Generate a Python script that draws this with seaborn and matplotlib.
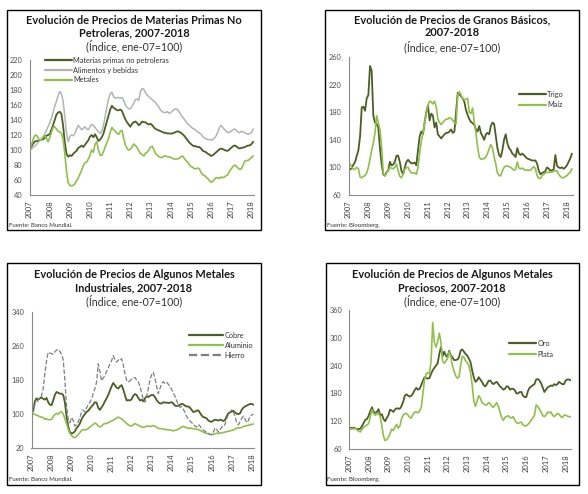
import numpy as np
import pandas as pd
import matplotlib
matplotlib.use("Agg")
import matplotlib.pyplot as plt
import seaborn as sns
from matplotlib.patches import Rectangle

sns.set_theme(style="white")
plt.rcParams['font.family'] = ['Lato', 'DejaVu Sans']

W, H = 588, 494
DARK = "#4b5e24"
LIGHT = "#8fc04a"
GRAY = "#b4b4b4"
IRON = "#7f7f7f"

year_labels = [str(y) for y in range(2007, 2019)]

# ---------------- Chart 1: Materias primas no petroleras (monthly, Jan-2007 .. Feb-2018)
materias_primas = [
    100, 104, 108, 111, 112, 112, 113, 114, 114, 116, 119, 120,
    121, 127, 133, 140, 147, 150, 151, 148, 132, 110, 95, 91,
    93, 92, 95, 97, 99, 103, 104, 106, 104, 107, 110, 113,
    118, 120, 117, 121, 117, 112, 114, 117, 122, 130, 138, 146,
    154, 159, 156, 155, 153, 153, 154, 152, 146, 141, 137, 134,
    131, 135, 137, 138, 136, 133, 135, 138, 137, 137, 135, 134,
    135, 133, 130, 128, 127, 126, 125, 124, 123, 123, 122, 122,
    122, 122, 123, 124, 125, 124, 123, 121, 119, 116, 113, 110,
    108, 106, 105, 105, 104, 104, 102, 99, 98, 97, 95, 94,
    92, 93, 95, 97, 99, 101, 102, 101, 100, 99, 99, 101,
    103, 105, 106, 105, 103, 102, 103, 103, 104, 105, 106, 106,
    108, 111]
alimentos = [
    100, 101, 103, 105, 107, 110, 112, 114, 117, 121, 126, 131,
    136, 142, 150, 158, 165, 172, 178, 175, 165, 145, 122, 111,
    118, 120, 119, 122, 128, 133, 130, 127, 129, 131, 128, 127,
    131, 134, 133, 130, 127, 124, 122, 125, 133, 145, 157, 168,
    175, 177, 171, 169, 170, 170, 169, 170, 166, 160, 157, 155,
    155, 158, 163, 167, 168, 166, 178, 182, 181, 176, 173, 171,
    169, 167, 165, 163, 160, 157, 153, 151, 150, 150, 151, 149,
    150, 152, 154, 155, 154, 151, 147, 144, 141, 138, 135, 133,
    131, 129, 128, 126, 124, 123, 121, 118, 116, 115, 114, 114,
    113, 114, 116, 119, 124, 130, 133, 130, 127, 125, 123, 124,
    125, 127, 128, 126, 124, 123, 125, 124, 123, 122, 121, 122,
    123, 128]
metales = [
    100, 106, 113, 119, 120, 117, 113, 114, 117, 119, 116, 111,
    116, 123, 130, 131, 128, 125, 124, 122, 114, 95, 72, 56,
    53, 52, 53, 55, 59, 63, 68, 73, 79, 83, 84, 88,
    93, 100, 97, 108, 111, 100, 93, 93, 98, 104, 110, 115,
    124, 130, 127, 125, 122, 121, 125, 126, 116, 107, 102, 100,
    101, 104, 108, 106, 103, 99, 95, 94, 92, 96, 97, 100,
    104, 105, 100, 95, 93, 91, 90, 90, 92, 92, 91, 91,
    90, 89, 88, 88, 88, 89, 91, 92, 89, 86, 84, 81,
    78, 77, 75, 75, 76, 75, 70, 67, 66, 64, 62, 59,
    57, 58, 61, 63, 63, 62, 64, 63, 64, 66, 67, 72,
    75, 78, 80, 78, 76, 74, 75, 80, 85, 86, 86, 88,
    90, 92]

# ---------------- Chart 2: Granos básicos (monthly, Jan-2007 .. Apr-2018)
trigo = [
    100, 97, 99, 104, 108, 117, 125, 145, 187, 188, 182, 200,
    205, 247, 240, 175, 165, 163, 158, 128, 105, 90, 88, 93,
    95, 108, 103, 104, 108, 117, 117, 108, 95, 90, 100, 108,
    111, 108, 106, 106, 107, 103, 125, 145, 152, 148, 165, 180,
    190, 168, 178, 175, 158, 165, 148, 145, 142, 145, 148, 150,
    150, 152, 155, 150, 152, 180, 208, 206, 203, 200, 195, 183,
    176, 170, 166, 164, 162, 155, 152, 160, 150, 145, 140, 148,
    150, 148, 160, 165, 163, 145, 128, 118, 115, 125, 140, 148,
    135, 128, 125, 120, 118, 115, 128, 120, 118, 120, 118, 115,
    113, 112, 111, 110, 110, 110, 105, 95, 90, 92, 93, 95,
    100, 98, 95, 96, 97, 118, 102, 100, 99, 100, 98, 100,
    103, 108, 113, 120]
maiz = [
    104, 105, 100, 97, 98, 100, 98, 86, 85, 87, 88, 92,
    100, 112, 125, 135, 150, 175, 165, 155, 130, 92, 88, 92,
    95, 100, 99, 98, 100, 105, 95, 87, 85, 90, 97, 100,
    100, 95, 92, 92, 92, 90, 100, 120, 138, 150, 165, 178,
    190, 196, 195, 192, 196, 188, 170, 165, 162, 165, 168, 170,
    170, 172, 171, 168, 165, 163, 205, 210, 205, 200, 198, 199,
    200, 180, 178, 186, 165, 150, 130, 115, 112, 112, 113, 115,
    120, 127, 133, 128, 115, 105, 92, 88, 88, 95, 100, 102,
    102, 101, 100, 98, 96, 97, 108, 99, 98, 99, 97, 96,
    96, 96, 96, 99, 101, 98, 88, 84, 84, 88, 90, 92,
    93, 93, 93, 93, 95, 95, 95, 90, 87, 85, 85, 87,
    88, 91, 93, 98]

# ---------------- Chart 3: Metales industriales (monthly, Jan-2007 .. Feb-2018)
cobre = [
    100, 108, 130, 137, 134, 137, 139, 136, 134, 138, 128, 122,
    121, 132, 145, 152, 150, 148, 148, 145, 128, 95, 72, 58,
    55, 56, 60, 67, 72, 78, 88, 95, 100, 105, 108, 113,
    118, 122, 128, 127, 115, 110, 116, 122, 130, 137, 145, 155,
    165, 173, 168, 162, 160, 165, 168, 158, 145, 132, 133, 132,
    135, 143, 147, 145, 138, 132, 134, 130, 137, 142, 140, 143,
    145, 145, 140, 133, 128, 125, 125, 128, 127, 127, 126, 127,
    128, 125, 120, 119, 120, 122, 124, 123, 120, 118, 118, 115,
    110, 105, 106, 108, 109, 103, 97, 93, 92, 90, 85, 83,
    82, 85, 87, 86, 85, 87, 86, 84, 86, 95, 102, 104,
    106, 108, 104, 101, 100, 102, 110, 115, 118, 120, 122, 124,
    124, 122]
aluminio = [
    100, 101, 99, 98, 96, 94, 93, 92, 88, 89, 87, 87,
    88, 94, 99, 102, 100, 104, 106, 100, 90, 78, 65, 55,
    50, 46, 45, 48, 52, 57, 62, 64, 63, 64, 66, 70,
    73, 76, 79, 77, 72, 70, 72, 76, 78, 78, 80, 82,
    84, 86, 88, 91, 93, 91, 89, 86, 82, 78, 75, 73,
    72, 75, 78, 76, 74, 72, 70, 69, 70, 72, 72, 71,
    72, 73, 72, 69, 67, 66, 66, 65, 64, 64, 63, 63,
    62, 61, 62, 63, 65, 67, 70, 71, 70, 68, 67, 67,
    67, 66, 65, 65, 64, 62, 60, 58, 56, 55, 54, 53,
    52, 53, 54, 55, 55, 56, 56, 57, 58, 59, 60, 61,
    62, 63, 65, 67, 68, 68, 69, 71, 72, 73, 74, 75,
    76, 77]
hierro = [
    100, 112, 122, 128, 133, 138, 143, 160, 195, 225, 245, 243,
    242, 240, 246, 250, 252, 247, 240, 228, 180, 120, 88, 80,
    92, 85, 72, 75, 82, 92, 105, 110, 105, 115, 122, 128,
    135, 148, 160, 175, 218, 200, 178, 185, 190, 200, 208, 218,
    225, 237, 228, 222, 227, 225, 230, 215, 195, 180, 175, 178,
    182, 184, 186, 180, 176, 165, 150, 135, 128, 140, 160, 180,
    192, 198, 185, 165, 148, 160, 172, 176, 172, 175, 170, 165,
    158, 150, 142, 132, 122, 116, 118, 112, 103, 95, 88, 84,
    80, 77, 72, 70, 76, 72, 66, 63, 60, 57, 55, 52,
    52, 58, 68, 64, 58, 63, 70, 70, 76, 90, 98, 105,
    110, 106, 95, 80, 75, 82, 90, 95, 88, 80, 85, 95,
    98, 100]

# ---------------- Chart 4: Metales preciosos (monthly, Jan-2007 .. Apr-2018)
oro = [
    102, 106, 105, 106, 104, 103, 103, 104, 110, 117, 123, 125,
    132, 142, 150, 140, 138, 140, 146, 133, 135, 125, 120, 127,
    133, 145, 143, 140, 145, 148, 147, 147, 153, 162, 175, 178,
    175, 173, 175, 180, 187, 192, 188, 190, 198, 207, 215, 213,
    212, 213, 222, 230, 235, 240, 245, 265, 280, 260, 270, 262,
    258, 272, 262, 258, 252, 252, 253, 258, 272, 275, 270, 265,
    262, 255, 248, 230, 215, 205, 208, 215, 210, 205, 198, 195,
    200, 207, 208, 203, 200, 203, 205, 200, 195, 192, 188, 190,
    195, 195, 188, 190, 190, 187, 180, 180, 183, 183, 175, 172,
    172, 185, 192, 195, 198, 200, 210, 211, 208, 202, 193, 183,
    188, 193, 195, 197, 196, 200, 198, 200, 205, 202, 200, 200,
    208, 210, 210, 208]
plata = [
    100, 104, 103, 104, 105, 101, 98, 97, 103, 107, 110, 112,
    115, 130, 145, 136, 133, 135, 137, 130, 110, 88, 78, 80,
    85, 93, 103, 100, 107, 113, 105, 110, 125, 133, 136, 137,
    133, 128, 127, 135, 140, 140, 138, 142, 150, 178, 210, 222,
    225, 222, 250, 333, 290, 280, 292, 310, 290, 250, 245, 250,
    255, 270, 260, 240, 228, 218, 213, 215, 240, 260, 258, 250,
    247, 240, 225, 200, 165, 152, 163, 175, 170, 160, 158, 155,
    155, 160, 158, 152, 150, 155, 160, 152, 140, 128, 122, 128,
    130, 132, 128, 127, 130, 122, 117, 115, 117, 118, 112, 110,
    110, 113, 117, 122, 127, 133, 155, 152, 146, 140, 132, 130,
    133, 140, 138, 140, 133, 130, 133, 137, 135, 130, 128, 133,
    133, 131, 130, 129]


def months(vals):
    return 2007 + np.arange(len(vals)) / 12.0


fig = plt.figure(figsize=(W / 100, H / 100), dpi=100)
fig.patch.set_facecolor("white")


def add_box(x0, y0, x1, y1):
    fig.add_artist(Rectangle((x0 / W, 1 - y1 / H), (x1 - x0) / W, (y1 - y0) / H,
                             transform=fig.transFigure, fill=False,
                             ec="black", lw=1.0))


def make_ax(x0, x1, y0, y1, xlim, ylim, yticks):
    ax = fig.add_axes([x0 / W, 1 - y1 / H, (x1 - x0) / W, (y1 - y0) / H])
    ax.set_xlim(*xlim)
    ax.set_ylim(*ylim)
    ax.set_facecolor("none")
    for s in ["top", "right"]:
        ax.spines[s].set_visible(False)
    for s in ["left", "bottom"]:
        ax.spines[s].set_color("#8a8a8a")
        ax.spines[s].set_linewidth(0.8)
    ax.set_xticks(range(2007, 2019))
    ax.set_xticklabels(year_labels, rotation=90)
    ax.set_yticks(yticks)
    ax.tick_params(axis="x", direction="inout", length=5, width=0.7,
                   colors="#8a8a8a", labelcolor="#404040", labelsize=5.5, pad=1.5)
    ax.tick_params(axis="y", direction="out", length=3, width=0.7,
                   colors="#8a8a8a", labelcolor="#505050", labelsize=5.3, pad=2)
    ax.set_xlabel("")
    ax.set_ylabel("")
    ax.grid(False)
    return ax


def titles(cx, lines, ys, sub, ysub):
    for t, y in zip(lines, ys):
        fig.text(cx / W, 1 - y / H, t, ha="center", va="center",
                 fontsize=7.9, fontweight="bold", color="#1a1a1a")
    fig.text(cx / W, 1 - ysub / H, sub, ha="center", va="center",
             fontsize=7.6, color="#333333")


def legend(ax, fx, fy, hl, spacing):
    leg = ax.legend(loc="upper left", bbox_to_anchor=(fx / W, 1 - fy / H),
                    bbox_transform=fig.transFigure, frameon=False, fontsize=5.3,
                    handlelength=hl, handletextpad=0.25, labelspacing=spacing,
                    borderpad=0, borderaxespad=0, labelcolor="#333333")
    for h in leg.get_lines():
        h.set_linewidth(1.6)


def fuente(x, y, txt):
    fig.text(x / W, 1 - y / H, txt, ha="left", va="center", fontsize=4.4,
             color="#333333")


sub = "(Índice, ene-07=100)"

# ---- Panel 1
add_box(7, 10, 261, 230)
titles(134, ["Evolución de Precios de Materias Primas No", "Petroleras, 2007-2018"],
       [20, 33], sub, 46)
ax1 = make_ax(29.5, 253.9, 60, 195, (2007, 2018.12), (40, 220), range(40, 221, 20))
sns.lineplot(x=months(materias_primas), y=materias_primas, ax=ax1, color=DARK,
             lw=1.3, label="Materias primas no petroleras")
sns.lineplot(x=months(alimentos), y=alimentos, ax=ax1, color=GRAY, lw=1.1,
             label="Alimentos y bebidas")
sns.lineplot(x=months(metales), y=metales, ax=ax1, color=LIGHT, lw=1.2,
             label="Metales")
legend(ax1, 45, 57, 3.6, 0.35)
fuente(9, 225, "Fuente: Banco Mundial.")

# ---- Panel 2
add_box(325, 10, 579, 230)
titles(452, ["Evolución de Precios de Granos Básicos,", "2007-2018"], [20, 33], sub, 47)
ax2 = make_ax(348.5, 572.5, 57, 195, (2007, 2018.28), (60, 260), range(60, 261, 40))
sns.lineplot(x=months(trigo), y=trigo, ax=ax2, color=DARK, lw=1.3, label="Trigo")
sns.lineplot(x=months(maiz), y=maiz, ax=ax2, color=LIGHT, lw=1.2, label="Maíz")
legend(ax2, 519, 91, 3.6, 0.45)
fuente(327, 225, "Fuente: Bloomberg.")

# ---- Panel 3
add_box(7, 263, 261, 485)
titles(134, ["Evolución de Precios de Algunos Metales", "Industriales, 2007-2018"],
       [275, 288], sub, 301)
ax3 = make_ax(31.5, 254.1, 311.7, 448.3, (2007, 2018.12), (20, 340), range(20, 341, 80))
sns.lineplot(x=months(cobre), y=cobre, ax=ax3, color=DARK, lw=1.3, label="Cobre")
sns.lineplot(x=months(aluminio), y=aluminio, ax=ax3, color=LIGHT, lw=1.2,
             label="Aluminio")
sns.lineplot(x=months(hierro), y=hierro, ax=ax3, color=IRON, lw=0.9,
             linestyle="--", label="Hierro")
legend(ax3, 189, 332, 4.6, 0.4)
fuente(9, 479, "Fuente: Banco Mundial.")

# ---- Panel 4
add_box(326, 263, 579, 485)
titles(452, ["Evolución de Precios de Algunos Metales", "Preciosos, 2007-2018"],
       [274, 288], sub, 301)
ax4 = make_ax(349, 571.2, 310, 449, (2007, 2018.28), (60, 360), range(60, 361, 60))
sns.lineplot(x=months(oro), y=oro, ax=ax4, color=DARK, lw=1.3, label="Oro")
sns.lineplot(x=months(plata), y=plata, ax=ax4, color=LIGHT, lw=1.2, label="Plata")
legend(ax4, 509, 340, 3.6, 0.5)
fuente(327, 479, "Fuente: Bloomberg.")

fig.savefig("out.png", dpi=100, facecolor="white")
